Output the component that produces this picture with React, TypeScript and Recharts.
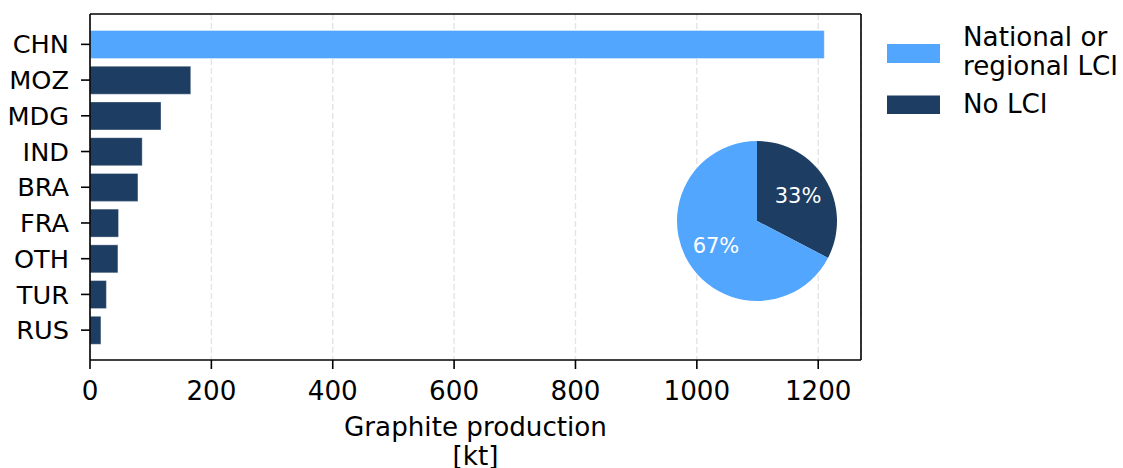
import React from 'react';
import { ComposedChart, Bar, Line, XAxis, YAxis, CartesianGrid, Cell, Legend, PieChart, Pie } from 'recharts';

// Graphite production by country [kt] and whether an LCI dataset exists
const countries = ['CHN', 'MOZ', 'MDG', 'IND', 'BRA', 'FRA', 'OTH', 'TUR', 'RUS'];
const production = [1210, 166, 117, 86, 79, 47, 46, 27, 18];
const hasLci = [true, false, false, false, false, false, false, false, false];

const xTicks = [0, 200, 400, 600, 800, 1000, 1200];
const legendLines = [['National or', 'regional LCI'], ['No LCI']];
const shareNames = ['No LCI', 'National or regional LCI'];

const LIGHT = '#52a6fe';
const DARK = '#1e3d62';
const FONT = '"DejaVu Sans", Verdana, sans-serif';
const FS = 26.2;

const barData = countries.map((c, i) => ({ country: c, value: production[i], lci: hasLci[i] }));

const sumWith = (flag: boolean) =>
  production.reduce((s, v, i) => (hasLci[i] === flag ? s + v : s), 0);

const pieData = [
  { name: shareNames[0], value: sumWith(false), color: DARK },
  { name: shareNames[1], value: sumWith(true), color: LIGHT },
];

const xMax = Math.max(...production) * 1.05;

const RAD = Math.PI / 180;
const renderPct = (p: any) => {
  const r = p.outerRadius * 0.6;
  const x = p.cx + r * Math.cos(-p.midAngle * RAD);
  const y = p.cy + r * Math.sin(-p.midAngle * RAD);
  return (
    <text
      x={x}
      y={y}
      fill="#ffffff"
      textAnchor="middle"
      dominantBaseline="central"
      fontFamily={FONT}
      fontSize={21}
    >
      {`${Math.round(p.percent * 100)}%`}
    </text>
  );
};

const LegendBox = () => (
  <svg width={243} height={110} style={{ display: 'block' }}>
    <rect x={7} y={30} width={53} height={19} fill={LIGHT} />
    <rect x={7} y={81.5} width={53} height={18.5} fill={DARK} />
    <text fontFamily={FONT} fontSize={FS} fill="#000">
      <tspan x={83} y={31.7}>{legendLines[0][0]}</tspan>
      <tspan x={83} y={60.5}>{legendLines[0][1]}</tspan>
    </text>
    <text x={83} y={99.3} fontFamily={FONT} fontSize={FS} fill="#000">
      {legendLines[1][0]}
    </text>
  </svg>
);

const AxisTitle = (props: any) => {
  const vb = props.viewBox;
  const cx = vb.x + vb.width / 2;
  return (
    <text textAnchor="middle" fontFamily={FONT} fontSize={FS} fill="#000">
      <tspan x={cx} y={vb.y + 75.5}>Graphite production</tspan>
      <tspan x={cx} y={vb.y + 105}>[kt]</tspan>
    </text>
  );
};

const tickStyle = { fill: '#000', fontFamily: FONT, fontSize: FS };
const yTickStyle = { fill: '#000', fontFamily: FONT, fontSize: 25.6 };
const spine = { stroke: '#000', strokeWidth: 1.6 };

export default function App() {
  return (
    <div style={{ position: 'absolute', left: 0, top: 0, width: 1123, height: 468, background: '#fff' }}>
      <ComposedChart
        width={1123}
        height={468}
        data={barData}
        layout="vertical"
        margin={{ top: 13, right: 261, bottom: 0, left: 0 }}
      >
        <CartesianGrid horizontal={false} stroke="#e4e4e4" strokeWidth={1.4} strokeDasharray="6 3" />
        <XAxis
          type="number"
          domain={[0, xMax]}
          ticks={xTicks}
          height={108}
          tickSize={9}
          tickMargin={12}
          tick={tickStyle}
          axisLine={spine}
          tickLine={spine}
          label={{ content: AxisTitle }}
        />
        {/* top and right spines that close the frame */}
        <XAxis
          xAxisId="top"
          orientation="top"
          type="number"
          domain={[0, xMax]}
          height={1}
          tick={false}
          tickLine={false}
          axisLine={spine}
        />
        <YAxis
          type="category"
          dataKey="country"
          width={90}
          tickSize={9}
          tickMargin={12}
          tick={yTickStyle}
          axisLine={spine}
          tickLine={spine}
          padding={{ top: 12.5, bottom: 12 }}
        />
        <YAxis
          yAxisId="right"
          orientation="right"
          type="category"
          dataKey="country"
          width={1}
          tick={false}
          tickLine={false}
          axisLine={spine}
        />
        <Bar
          dataKey="value"
          barSize={28}
          isAnimationActive={false}
          stroke="#ffffff"
          strokeOpacity={0.45}
          strokeWidth={0.8}
        >
          {barData.map((d) => (
            <Cell key={d.country} fill={d.lci ? LIGHT : DARK} />
          ))}
        </Bar>
        <Line
          dataKey="value"
          xAxisId="top"
          yAxisId="right"
          stroke="none"
          dot={false}
          activeDot={false}
          legendType="none"
          isAnimationActive={false}
        />
        <Legend
          layout="horizontal"
          verticalAlign="middle"
          align="center"
          content={LegendBox}
          wrapperStyle={{ position: 'absolute', left: 880, top: 14, width: 243, height: 110 }}
        />
      </ComposedChart>
      <div style={{ position: 'absolute', left: 657, top: 121 }}>
        <PieChart width={200} height={200} margin={{ top: 0, right: 0, bottom: 0, left: 0 }}>
          <Pie
            data={pieData}
            dataKey="value"
            nameKey="name"
            cx={100}
            cy={100}
            outerRadius={80}
            startAngle={90}
            endAngle={-270}
            stroke="none"
            label={renderPct}
            labelLine={false}
            isAnimationActive={false}
          >
            {pieData.map((d) => (
              <Cell key={d.name} fill={d.color} />
            ))}
          </Pie>
        </PieChart>
      </div>
    </div>
  );
}
